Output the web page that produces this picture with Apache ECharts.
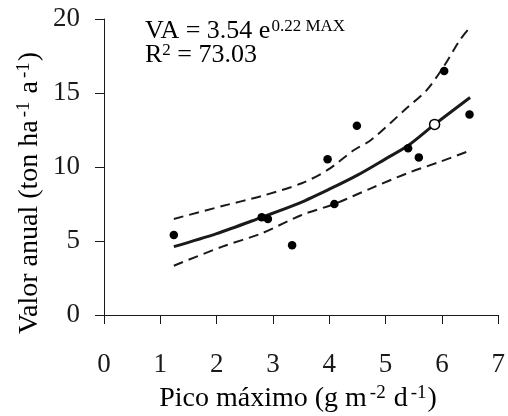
<!DOCTYPE html>
<html>
<head>
<meta charset="utf-8">
<script src="https://cdn.jsdelivr.net/npm/echarts@6/dist/echarts.min.js"></script>
<style>
html,body{margin:0;padding:0;background:#fff;}
#chart{width:508px;height:416px;}
</style>
</head>
<body>
<div id="chart"></div>
<script>
// Tick values
const xTicks = [0, 1, 2, 3, 4, 5, 6, 7];
const yTicks = [0, 5, 10, 15, 20];

// Observed points (filled)
const pointsX = [1.24, 2.80, 2.91, 3.34, 3.97, 4.09, 4.49, 5.40, 5.59, 6.04, 6.49];
const pointsY = [5.41, 6.60, 6.49, 4.71, 10.52, 7.50, 12.79, 11.26, 10.65, 16.49, 13.54];

// Open point
const openX = [5.87];
const openY = [12.88];

// Fitted curve
const fitX = [1.24, 2.0, 2.8, 3.4, 4.0, 4.5, 5.0, 5.4, 5.87, 6.5];
const fitY = [4.62, 5.5, 6.6, 7.45, 8.5, 9.45, 10.55, 11.45, 12.88, 14.7];

// Upper confidence band
const upperX = [1.24, 2.10, 2.80, 3.51, 3.97, 4.44, 4.74, 5.38, 5.73, 6.03, 6.32, 6.50];
const upperY = [6.49, 7.36, 8.04, 8.90, 9.80, 11.15, 11.82, 14.0, 15.2, 16.78, 18.58, 19.44];

// Lower confidence band
const lowerX = [1.24, 2.10, 2.80, 3.51, 4.09, 4.74, 5.38, 5.97, 6.49];
const lowerY = [3.33, 4.62, 5.52, 6.76, 7.50, 8.56, 9.57, 10.36, 11.10];

// Texts
const eqMain = 'VA = 3.54 e';
const eqExp = '0.22 MAX';
const r2Label = 'R';
const r2Sup = '2';
const r2Value = ' = 73.03';
const xTitle = ['Pico máximo (g m', '-2', ' d', '-1', ')'];
const yTitle = ['Valor anual (ton ha', '-1', ' a', '-1', ')'];

const zip = (a, b) => a.map((v, i) => [v, b[i]]);
const FONT = 'Liberation Serif';
const INK = '#1a1a1a';

const chart = echarts.init(document.getElementById('chart'), null, {renderer: 'canvas'});

const titleRich = {
  n: {fontFamily: FONT, fontSize: 28, color: INK},
  s: {fontFamily: FONT, fontSize: 19, color: INK, verticalAlign: 'top', padding: [0, 1, 11, 3]}
};

chart.setOption({
  animation: false,
  backgroundColor: '#fff',
  grid: {left: 104, right: 6, top: 19, bottom: 101, containLabel: false},
  xAxis: {
    type: 'value', min: 0, max: 7, interval: 1,
    axisLine: {show: true, lineStyle: {color: INK, width: 1}},
    axisTick: {show: true, inside: false, length: 9, lineStyle: {color: INK}},
    axisLabel: {fontFamily: FONT, fontSize: 27, color: INK, margin: 36,
      formatter: v => xTicks.includes(v) ? String(v) : ''},
    splitLine: {show: false}
  },
  yAxis: {
    type: 'value', min: 0, max: 20, interval: 5,
    axisLine: {show: true, lineStyle: {color: INK, width: 1}},
    axisTick: {show: true, inside: false, length: 9, lineStyle: {color: INK}},
    axisLabel: {fontFamily: FONT, fontSize: 27, color: INK, margin: 24,
      formatter: v => yTicks.includes(v) ? String(v) : ''},
    splitLine: {show: false}
  },
  series: [
    {type: 'line', data: zip(upperX, upperY), smooth: 0.3, symbol: 'none',
     lineStyle: {color: INK, width: 2, type: [10, 6]}, z: 2},
    {type: 'line', data: zip(lowerX, lowerY), smooth: 0.3, symbol: 'none',
     lineStyle: {color: INK, width: 2, type: [10, 6]}, z: 2},
    {type: 'line', data: zip(fitX, fitY), smooth: 0.3, symbol: 'none',
     lineStyle: {color: INK, width: 3}, z: 3},
    {type: 'scatter', data: zip(pointsX, pointsY), symbol: 'circle', symbolSize: 8.5,
     itemStyle: {color: '#000', opacity: 1}, z: 4},
    {type: 'scatter', data: zip(openX, openY), symbol: 'circle', symbolSize: 10,
     itemStyle: {color: '#fff', borderColor: '#000', borderWidth: 1.5, opacity: 1}, z: 5}
  ],
  graphic: [
    {type: 'text', left: 145, top: 18, z: 10,
     style: {text: '{n|' + eqMain + '}{s|' + eqExp + '}',
       rich: {n: {fontFamily: FONT, fontSize: 26, color: INK},
              s: {fontFamily: FONT, fontSize: 17, color: INK, verticalAlign: 'top', padding: [0, 0, 9, 1]}}}},
    {type: 'text', left: 145, top: 42, z: 10,
     style: {text: '{n|' + r2Label + '}{s|' + r2Sup + '}{n|' + r2Value + '}',
       rich: {n: {fontFamily: FONT, fontSize: 26, color: INK},
              s: {fontFamily: FONT, fontSize: 17, color: INK, verticalAlign: 'top', padding: [0, 0, 9, 0]}}}},
    {type: 'text', x: 298, y: 399, z: 10,
     style: {text: '{n|' + xTitle[0] + '}{s|' + xTitle[1] + '}{n|' + xTitle[2] + '}{s|' + xTitle[3] + '}{n|' + xTitle[4] + '}',
       align: 'center', verticalAlign: 'middle', rich: titleRich}},
    {type: 'text', x: 30, y: 193, rotation: Math.PI / 2, z: 10,
     style: {text: '{n|' + yTitle[0] + '}{s|' + yTitle[1] + '}{n|' + yTitle[2] + '}{s|' + yTitle[3] + '}{n|' + yTitle[4] + '}',
       align: 'center', verticalAlign: 'middle', rich: titleRich}}
  ]
});
</script>
</body>
</html>
